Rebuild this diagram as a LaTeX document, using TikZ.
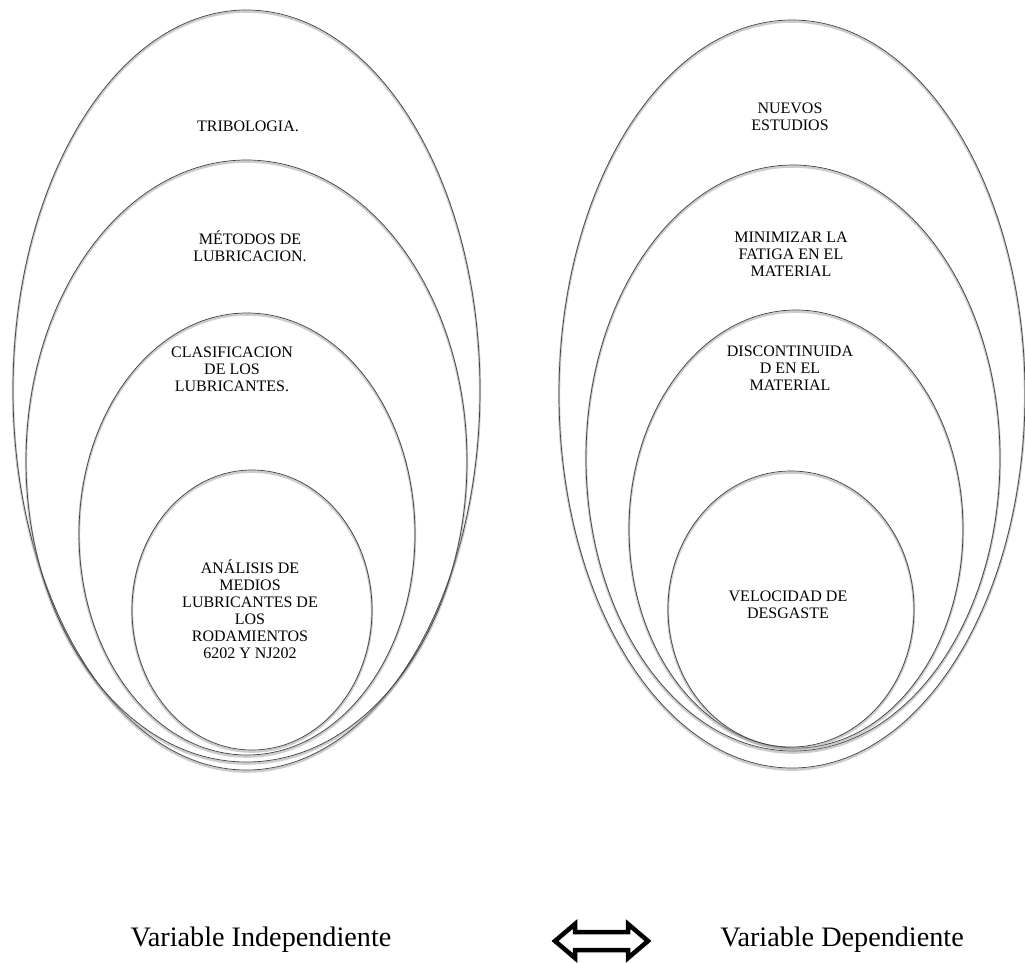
\documentclass[tikz,border=0pt]{standalone}
\usepackage{fontspec}
\setmainfont{Liberation Serif}
\usetikzlibrary{shapes.geometric}
\tikzset{
  oval/.style={ellipse, draw=black!75, line width=0.7pt, inner sep=0pt, outer sep=0pt,
    preaction={draw=black!40, line width=2.4pt, opacity=0.5, transform canvas={yshift=-1.6pt}}},
  lbl/.style={align=center, inner sep=0pt, font=\fontsize{16}{17}\selectfont},
  big/.style={inner sep=0pt, font=\fontsize{28.2}{32}\selectfont},
  dblarrow/.style={draw=black, line width=4.5pt, line join=miter, fill=white}
}
\begin{document}
\begin{tikzpicture}[x=1pt,y=-1pt]
\useasboundingbox (0,0) rectangle (1025,962);
% left ellipses
\node[oval, minimum width=467pt, minimum height=760pt] (L1) at (246.5,390) {};
\node[oval, minimum width=441pt, minimum height=602pt] (L2) at (246.5,461) {};
\node[oval, minimum width=336pt, minimum height=442pt] (L3) at (247,534) {};
\node[oval, minimum width=240pt, minimum height=280pt] (L4) at (252,610) {};
% right ellipses
\node[oval, minimum width=466pt, minimum height=748pt] (R1) at (792,394) {};
\node[oval, minimum width=414pt, minimum height=586pt] (R2) at (793,458) {};
\node[oval, minimum width=334pt, minimum height=438pt] (R3) at (796,529) {};
\node[oval, minimum width=246pt, minimum height=276pt] (R4) at (791,609) {};
% labels
\node[lbl] (t1) at (248,126) {TRIBOLOGIA.};
\node[lbl] (t2) at (250,246) {MÉTODOS DE\\LUBRICACION.};
\node[lbl] (t3) at (232,369) {CLASIFICACION\\DE LOS\\LUBRICANTES.};
\node[lbl] (t4) at (250,609) {ANÁLISIS DE\\MEDIOS\\LUBRICANTES DE\\LOS\\RODAMIENTOS\\6202 Y NJ202};
\node[lbl] (u1) at (790,117) {NUEVOS\\ESTUDIOS};
\node[lbl] (u2) at (791,254) {MINIMIZAR LA\\FATIGA EN EL\\MATERIAL};
\node[lbl] (u3) at (790,368) {DISCONTINUIDA\\D EN EL\\MATERIAL};
\node[lbl] (u4) at (788,605) {VELOCIDAD DE\\DESGASTE};
% bottom
\node[big] (vi) at (261,940) {Variable Independiente};
\node[big] (vd) at (842,940) {Variable Dependiente};
\draw[dblarrow] (555,941) -- (575,924) -- (575,932) -- (628,932) -- (628,924) -- (648,941)
  -- (628,958) -- (628,950) -- (575,950) -- (575,958) -- cycle;
\end{tikzpicture}
\end{document}
